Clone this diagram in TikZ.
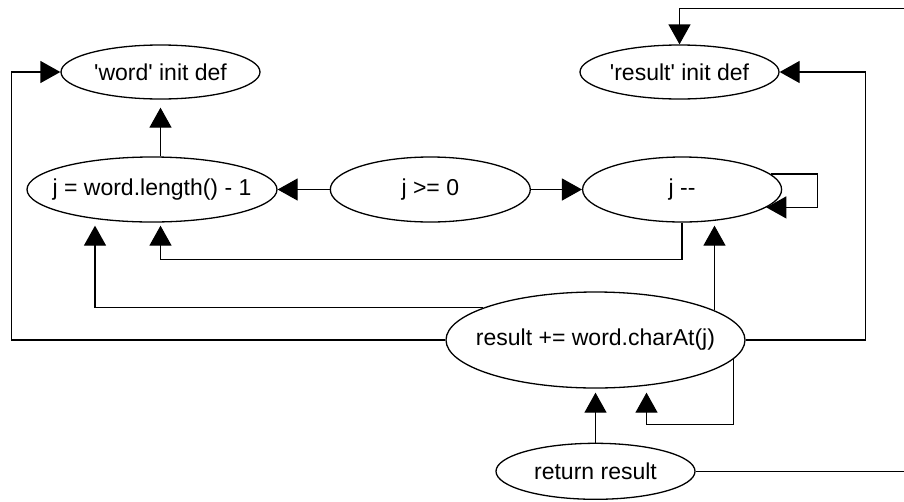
\documentclass[tikz,border=0pt]{standalone}
\usepackage{fontspec}
\newfontfamily\flowfont{Liberation Sans}
\usetikzlibrary{arrows.meta,positioning,shapes.geometric,calc}

\begin{document}
\begin{tikzpicture}[
    x=1pt, y=-1pt,
    node distance=54pt and 52pt,
    stmt/.style={draw, ellipse, line width=1.3pt, inner sep=0pt, minimum width=199pt, minimum height=54pt,
        font=\flowfont\fontsize{23}{27}\selectfont,
        execute at begin node={\hbox to 0pt\bgroup\hss}, execute at end node={\hss\egroup}},
    arr/.style={-{Triangle[length=20pt, width=22pt]}, line width=1.3pt}
]
\useasboundingbox (0,0) rectangle (904,501);

\node[stmt] (wdef) at (160.5,72) {'word' init def};
\node[stmt] (rdef) at (679.5,72) {'result' init def};
\node[stmt, minimum width=250pt, minimum height=65pt] (jinit) at (152,189.5) {j = word.length() - 1};
\node[stmt, minimum width=200pt, minimum height=65pt, right=of jinit] (jge) {j >= 0};
\node[stmt, minimum height=65pt, right=51pt of jge] (jdec) {j --};
\node[stmt, minimum width=299pt, minimum height=96pt] (resadd) at (595.5,340) {result += word.charAt(j)};
\node[stmt, minimum height=56pt, below=of resadd] (ret) {return result};

% loop header and counter
\draw[arr, shorten >=8pt] (wdef.south |- jinit.north) -- (wdef.south);
\draw[arr] (jge.west) -- (jinit.east);
\draw[arr] (jge.east) -- (jdec.west);
\draw[arr] (jdec.10) -- ++(47,0) |- (jdec.-12);
\draw[arr, shorten >=3pt] (jdec.south) -- ++(0,37) -| (wdef.south |- jinit.south);

% uses in the loop body
\draw[arr, shorten >=3pt] (resadd.14) -- (resadd.14 |- jdec.south);
\draw[arr] (resadd.164) -| ($(jinit.south)+(-57,3)$);
\draw[arr] (resadd.west) -- ++(-434,0) |- (wdef.west);
\draw[arr] (resadd.east) -- ++(120,0) |- (rdef.east);
\draw[arr] (resadd.-8) -- ++(0,65) -| ($(resadd.south)+(51,4)$);

% return
\draw[arr, shorten >=4pt] (ret.north) -- (resadd.south);
\draw[arr] (ret.east) -- ++(215,0) -- ++(0,-463) -| (rdef.north);
\end{tikzpicture}
\end{document}
